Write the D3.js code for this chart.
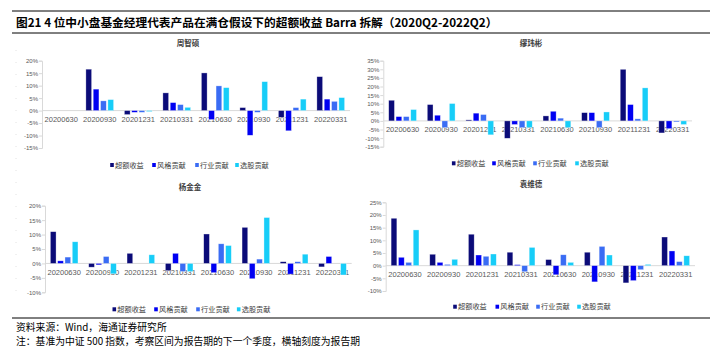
<!DOCTYPE html>
<html><head><meta charset="utf-8">
<script src="https://cdn.jsdelivr.net/npm/d3@7"></script>
<style>
html,body{margin:0;padding:0;background:#fff;}
svg{display:block;}
text{font-family:"Liberation Sans",Arial,"Noto Sans CJK SC",sans-serif;}
</style></head>
<body>
<svg id="c" width="719" height="360"></svg>
<script>
const categories = ["20200630","20200930","20201231","20210331","20210630","20210930","20211231","20220331"];
const seriesNames = ["超额收益","风格贡献","行业贡献","选股贡献"];
const seriesColors = ["#0b0b78","#0000f2","#3a6cf4","#17cdf8"];
const managers = ["周智硕","缪玮彬","杨金金","袁维德"];

// 周智硕
const zhouExcess   = [0, 16.6, -1.6, 7.1, 15.1, 1.2, -2.7, 13.6];
const zhouStyle    = [0, 8.6, -0.7, 3.2, -3.6, -9.9, -8.1, 4.6];
const zhouIndustry = [0, 3.9, -0.7, 2.4, 9.9, -0.7, 1.2, 3.7];
const zhouStock    = [0, 4.4, -0.4, 1.3, 9.2, 11.6, 4.6, 5.2];
const zhouTicks    = [20, 15, 10, 5, 0, -5, -10, -15];

// 缪玮彬
const miaoExcess   = [12.0, 9.5, 0.6, -10.1, 2.9, 4.8, 30.0, -7.0];
const miaoStyle    = [2.5, 3.3, 4.5, -2.1, 5.6, 4.8, 9.5, -4.5];
const miaoIndustry = [2.5, -3.9, 3.7, -3.9, 1.6, -3.9, 1.2, -0.6];
const miaoStock    = [6.6, 10.1, -8.1, -3.9, -3.9, 5.2, 19.2, -2.1];
const miaoTicks    = [35, 30, 25, 20, 15, 10, 5, 0, -5, -10, -15];

// 杨金金
const yangExcess   = [11.0, -1.3, 3.5, -2.5, 10.2, 12.5, 0.6, -1.2];
const yangStyle    = [0.9, -0.5, 0, 3.5, -3.2, -5.3, -3.7, 2.4];
const yangIndustry = [2.2, 2.4, 0, -2.8, 6.8, 1.5, 0.6, 0];
const yangStock    = [7.5, -3.6, 3.0, -2.8, 6.2, 15.9, 3.2, -4.0];
const yangTicks    = [20, 15, 10, 5, 0, -5, -10];

// 袁维德
const yuanExcess   = [18.7, 4.5, 12.4, 5.3, 2.4, 5.3, -6.8, 11.3];
const yuanStyle    = [3.3, 1.3, 4.2, 0.4, -3.6, -6.4, -5.9, 5.8];
const yuanIndustry = [1.3, 0.5, 3.7, -2.4, 4.3, 7.6, -1.6, 1.6];
const yuanStock    = [14.1, 2.5, 4.6, 7.2, 1.3, 4.2, 0.5, 3.9];
const yuanTicks    = [25, 20, 15, 10, 5, 0, -5, -10];

const panels = [
  {name: managers[0], series: [zhouExcess, zhouStyle, zhouIndustry, zhouStock], ticks: zhouTicks,
   x0: 42, x1: 350, yTop: 60.7, yBot: 148, titleY: 46, legendY: 165, legendX: [112,154,197,237], cx: 188},
  {name: managers[1], series: [miaoExcess, miaoStyle, miaoIndustry, miaoStock], ticks: miaoTicks,
   x0: 383.3, x1: 692, yTop: 60.7, yBot: 146.7, titleY: 46, legendY: 163.3, legendX: [453.7,494,535,577], cx: 531},
  {name: managers[2], series: [yangExcess, yangStyle, yangIndustry, yangStock], ticks: yangTicks,
   x0: 45, x1: 351.7, yTop: 205.7, yBot: 292.3, titleY: 190, legendY: 309.3, legendX: [114.3,156,198,238.7], cx: 190},
  {name: managers[3], series: [yuanExcess, yuanStyle, yuanIndustry, yuanStock], ticks: yuanTicks,
   x0: 385.7, x1: 695, yTop: 202.3, yBot: 291, titleY: 187, legendY: 306.7, legendX: [455,497.3,538,579], cx: 531}
];

const svg = d3.select("#c");

// header
svg.append("line").attr("x1",12).attr("x2",710).attr("y1",11).attr("y2",11).attr("stroke","#000").attr("stroke-width",1);
svg.append("line").attr("x1",12).attr("x2",710).attr("y1",33).attr("y2",33).attr("stroke","#000").attr("stroke-width",1);
svg.append("text").attr("x",16).attr("y",26.5).attr("font-size",11.7).attr("font-weight","bold")
  .attr("fill","#000").style("font-family","'Noto Sans CJK SC','Liberation Sans',sans-serif")
  .text("图21 4 位中小盘基金经理代表产品在满仓假设下的超额收益 Barra 拆解（2020Q2-2022Q2）");

// footer
svg.append("line").attr("x1",12).attr("x2",710).attr("y1",318).attr("y2",318).attr("stroke","#000").attr("stroke-width",1);
svg.append("text").attr("x",16).attr("y",330.5).attr("font-size",9.8).attr("fill","#000")
  .style("font-family","'Noto Sans CJK SC',sans-serif").text("资料来源：Wind，海通证券研究所");
svg.append("text").attr("x",16).attr("y",344.5).attr("font-size",9.8).attr("fill","#000")
  .style("font-family","'Noto Sans CJK SC',sans-serif").text("注：基准为中证 500 指数，考察区间为报告期的下一个季度，横轴刻度为报告期");

// faint dotted frame hints on left
svg.append("line").attr("x1",16).attr("x2",16).attr("y1",50).attr("y2",300)
  .attr("stroke","#e2e2e2").attr("stroke-dasharray","1,11");

panels.forEach(p => {
  const g = svg.append("g");
  const lo = d3.min(p.ticks), hi = d3.max(p.ticks);
  const y = d3.scaleLinear().domain([lo, hi]).range([p.yBot, p.yTop]);
  const x = d3.scaleBand().domain(categories).range([p.x0, p.x1]).paddingInner(0).paddingOuter(0);
  const bw = x.bandwidth();
  const xs = d3.scaleBand().domain(seriesNames).range([bw*0.14, bw*0.86]).paddingInner(0.22);

  // title
  g.append("text").attr("x", p.cx).attr("y", p.titleY).attr("text-anchor","middle")
    .attr("font-size",7.5).attr("font-weight","bold").attr("fill","#404040")
    .style("font-family","'Noto Sans CJK SC',sans-serif").text(p.name);

  // y axis
  const yAxis = d3.axisLeft(y).tickValues(p.ticks).tickSize(3).tickFormat(d => d + "%");
  const ya = g.append("g").attr("transform", `translate(${p.x0},0)`).call(yAxis);
  ya.select(".domain").attr("stroke","#d9d9d9");
  ya.selectAll(".tick line").attr("stroke","#d9d9d9");
  ya.selectAll(".tick text").attr("font-size",6).attr("fill","#595959")
    .style("font-family","'Liberation Sans',Arial,sans-serif").attr("x",-4);

  // category labels (drawn under bars)
  const y0 = y(0);
  g.append("g").selectAll("text").data(categories).join("text")
    .attr("x", d => x(d) + bw/2).attr("y", y0 + 11.5).attr("text-anchor","middle")
    .attr("font-size",7.5).attr("fill","#595959")
    .style("font-family","'Liberation Sans',Arial,sans-serif").text(d => d);

  // zero line
  g.append("line").attr("x1",p.x0).attr("x2",p.x1).attr("y1",y0).attr("y2",y0)
    .attr("stroke","#d9d9d9").attr("stroke-width",1);

  // bars
  p.series.forEach((vals, si) => {
    g.append("g").selectAll("rect").data(vals.map((v,i)=>({v, c: categories[i]}))).join("rect")
      .filter(d => d.v !== 0)
      .attr("x", d => x(d.c) + xs(seriesNames[si]))
      .attr("width", xs.bandwidth())
      .attr("y", d => Math.min(y(d.v), y0))
      .attr("height", d => Math.abs(y(d.v) - y0))
      .attr("fill", seriesColors[si])
      .attr("stroke", "#ffffff").attr("stroke-opacity",0.55).attr("stroke-width",0.6);
  });

  // legend
  seriesNames.forEach((s, si) => {
    const lx = p.legendX[si];
    g.append("rect").attr("x", lx-1.8).attr("y", p.legendY-2).attr("width",3.6).attr("height",4)
      .attr("fill", seriesColors[si]);
    g.append("text").attr("x", lx+3).attr("y", p.legendY+2.7).attr("font-size",7.2).attr("fill","#404040")
      .style("font-family","'Noto Sans CJK SC',sans-serif").text(s);
  });
});
</script>
</body></html>
